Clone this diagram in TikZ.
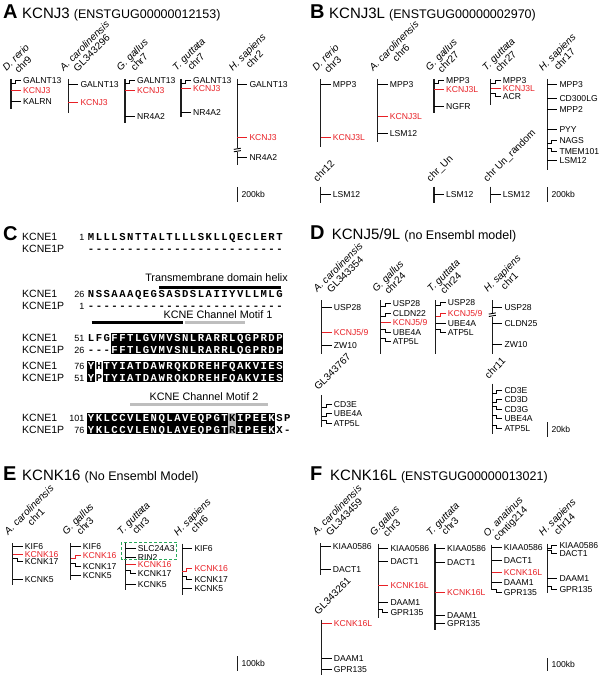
\documentclass[tikz,border=0pt]{standalone}
\usepackage{fontspec}
\setmainfont{Liberation Sans}
\newfontfamily\seqfont{Liberation Mono}
\usetikzlibrary{calc}

\definecolor{gred}{RGB}{232,32,38}
\definecolor{chromc}{RGB}{30,30,30}
\definecolor{boxgreen}{RGB}{40,170,90}
\definecolor{motifgray}{RGB}{190,190,190}

\newlength\sqpitch \setlength\sqpitch{7.85pt}
\def\sqloop#1{\ifx#1\relax\else\makebox[\sqpitch][c]{#1}\expandafter\sqloop\fi}
\newcommand\sq[1]{\sqloop#1\relax}

\newcounter{gn}
\tikzset{
  chrom/.style={line width=1.2pt, draw=chromc},
  tick/.style={line width=0.8pt},
  glab/.style={font=\fontsize{8.6}{10}\selectfont, inner sep=0pt, anchor=base west},
  splab/.style={font=\fontsize{10}{11}\selectfont, inner sep=0pt, rotate=45},
  plet/.style={font=\fontsize{20}{24}\selectfont\bfseries, inner sep=0pt, anchor=base west},
  ptxt/.style={font=\fontsize{15}{18}\selectfont, inner sep=0pt, anchor=base west},
  clab/.style={font=\fontsize{10.5}{12}\selectfont, inner sep=0pt, anchor=base west},
  cnum/.style={font=\fontsize{9}{10}\selectfont, inner sep=0pt, anchor=base east},
  cseq/.style={font=\seqfont\bfseries\fontsize{10.6}{12}\selectfont, inner sep=0pt, anchor=base west},
  ctxt/.style={font=\fontsize{10.8}{12}\selectfont, inner sep=0pt, anchor=base},
  bar/.style={line width=3pt, draw=black},
  gbar/.style={line width=3pt, draw=motifgray},
}

% gene ticks: straight, step up, step down
\newcommand\gS[4][black]{\stepcounter{gn}%
  \draw[tick,draw=#1] (#2,#3) -- ({#2+10},#3);
  \node[glab,text=#1] (g\arabic{gn}) at ({#2+12},{#3+3.1}) {#4};}
\newcommand\gU[4][black]{\stepcounter{gn}%
  \draw[tick,draw=#1] (#2,{#3+3}) -- ({#2+4.5},{#3+3}) -- ({#2+4.5},#3) -- ({#2+10},#3);
  \node[glab,text=#1] (g\arabic{gn}) at ({#2+12},{#3+3.1}) {#4};}
\newcommand\gD[4][black]{\stepcounter{gn}%
  \draw[tick,draw=#1] (#2,{#3-3}) -- ({#2+4.5},{#3-3}) -- ({#2+4.5},#3) -- ({#2+10},#3);
  \node[glab,text=#1] (g\arabic{gn}) at ({#2+12},{#3+3.1}) {#4};}
\newcommand\chrom[3]{\draw[chrom] (#1,#2) -- (#1,#3);}
\newcommand\sptwo[5]{%
  \node[splab,anchor=base west] (#1) at ({#2-4.5},{#3-7.5}) {\itshape #4};
  \node[splab,anchor=base] (#1c) at ($(#1.base)+(7.2,7.2)$) {#5};}
\newcommand\spone[4]{\node[splab,anchor=base west] (#1) at ({#2-3.5},{#3-4.5}) {#4};}
\newcommand\scalebar[5]{\draw[chrom] (#2,#3) -- (#2,#4);
  \node[glab] (#1) at ({#2+4},{(#3+#4)/2+3.1}) {#5};}
\newcommand\brk[2]{\fill[white] ({#1-3},{#2-1.8}) rectangle ({#1+3},{#2+1.8});
  \draw[line width=0.9pt] ({#1-3.5},{#2-0.6}) -- ({#1+3.5},{#2-1.8}) ({#1-3.5},{#2+1.8}) -- ({#1+3.5},{#2+0.6});}
\newcommand\ptitle[7]{%
  \node[plet] (#1) at (#2,#3) {#4};
  \node[ptxt] (#1t) at (#7,#3) {#5 {\fontsize{12.5}{15}\selectfont #6}};}
\newcommand\crow[5]{%
  \node[clab] (#1l) at (22,{#2+3.8}) {#3};
  \node[cnum] (#1n) at (84.5,{#2+3.2}) {#4};
  \node[cseq] (#1s) at (87,{#2+3.6}) {#5};}
\newcommand\shadecols[5]{\fill[#5] ({87+7.85*#1},#3) rectangle ({87+7.85*(#2+1)},#4);}

\begin{document}
\begin{tikzpicture}[x=1pt,y=-1pt]
\useasboundingbox (0,0) rectangle (600,676);

%================ A
\ptitle{tA}{3}{19}{A}{KCNJ3}{(ENSTGUG00000012153)}{22}
\sptwo{sA1}{11}{79}{D. rerio}{chr9}
\chrom{11}{79}{109}
\gU{11}{80.5}{GALNT13}
\gS[gred]{11}{90}{KCNJ3}
\gS{11}{101.7}{KALRN}

\sptwo{sA2}{68.3}{79}{A. carolinensis}{GL343296}
\chrom{68.3}{79}{113}
\gS{68.3}{84}{GALNT13}
\gS[gred]{68.3}{102.7}{KCNJ3}

\sptwo{sA3}{125}{79}{G. gallus}{chr7}
\chrom{125}{79}{123}
\gU{125}{80.5}{GALNT13}
\gS[gred]{125}{90}{KCNJ3}
\gS{125}{116.7}{NR4A2}

\sptwo{sA4}{181}{79}{T. guttata}{chr7}
\chrom{181}{79}{117}
\gU{181}{80.5}{GALNT13}
\gS[gred]{181}{88}{KCNJ3}
\gS{181}{112.3}{NR4A2}

\sptwo{sA5}{237.3}{79}{H. sapiens}{chr2}
\chrom{237.3}{79}{165}
\gS{237.3}{84}{GALNT13}
\gS[gred]{237.3}{137.3}{KCNJ3}
\brk{237.3}{150}
\gS{237.3}{157.3}{NR4A2}
\scalebar{sbA}{237.3}{187.3}{202.3}{200kb}

%================ B
\ptitle{tB}{310}{19}{B}{KCNJ3L}{(ENSTGUG00000002970)}{329}
\sptwo{sB1}{320.7}{79}{D. rerio}{chr3}
\chrom{320.7}{79}{146.7}
\gS{320.7}{84}{MPP3}
\gS[gred]{320.7}{137.7}{KCNJ3L}

\sptwo{sB2}{377.7}{79}{A. carolinensis}{chr6}
\chrom{377.7}{79}{141.7}
\gS{377.7}{84}{MPP3}
\gS[gred]{377.7}{116.7}{KCNJ3L}
\gS{377.7}{133.3}{LSM12}

\sptwo{sB3}{434}{79}{G. gallus}{chr27}
\chrom{434}{79}{113.3}
\gU{434}{80.5}{MPP3}
\gS[gred]{434}{89.3}{KCNJ3L}
\gS{434}{106}{NGFR}

\sptwo{sB4}{490.7}{79}{T. guttata}{chr27}
\chrom{490.7}{79}{105}
\gU{490.7}{80}{MPP3}
\gS[gred]{490.7}{88.3}{KCNJ3L}
\gD{490.7}{96.7}{ACR}

\sptwo{sB5}{547.3}{79}{H. sapiens}{chr17}
\chrom{547.3}{79}{170}
\gS{547.3}{84.7}{MPP3}
\gS{547.3}{98}{CD300LG}
\gS{547.3}{109}{MPP2}
\gS{547.3}{129}{PYY}
\gU{547.3}{140}{NAGS}
\gD{547.3}{151.7}{TMEM101}
\gS{547.3}{160.7}{LSM12}

\spone{sB6}{320.7}{186.7}{chr12}
\chrom{320.7}{186.7}{202.7}
\gS{320.7}{194.3}{LSM12}
\spone{sB7}{434}{186.7}{chr\_Un}
\chrom{434}{186.7}{202.7}
\gS{434}{194.3}{LSM12}
\spone{sB8}{490.7}{186.7}{chr Un\_random}
\chrom{490.7}{186.7}{202.7}
\gS{490.7}{194.3}{LSM12}
\scalebar{sbB}{547.3}{187.3}{202.3}{200kb}

%================ C
\node[plet] (tC) at (3,240) {C};
\crow{r1a}{237}{KCNE1}{1}{\sq{MLLLSNTTALTLLLSKLLQECLERT}}
\crow{r1b}{249}{KCNE1P}{}{\sq{-------------------------}}
\node[ctxt] (tm) at (216.5,281.5) {Transmembrane domain helix};
\draw[bar] (159,287) -- (281,287);
\crow{r2a}{294}{KCNE1}{26}{\sq{NSSAAAQEGSASDSLAIIYVLLMLG}}
\crow{r2b}{306}{KCNE1P}{1}{\sq{-------------------------}}
\node[ctxt] (m1) at (218,318) {KCNE Channel Motif 1};
\draw[bar] (91.7,322.3) -- (182.7,322.3);
\draw[gbar] (185,322.3) -- (245,322.3);
\shadecols{3}{24}{332.5}{354}{black}
\crow{r3a}{338}{KCNE1}{51}{\sq{LFG}{\color{white}\sq{FFTLGVMVSNLRARRLQGPRDP}}}
\crow{r3b}{350}{KCNE1P}{26}{\sq{---}{\color{white}\sq{FFTLGVMVSNLRARRLQGPRDP}}}
\shadecols{0}{0}{360.5}{382}{black}
\shadecols{2}{24}{360.5}{382}{black}
\crow{r4a}{366}{KCNE1}{76}{{\color{white}\sq{Y}}\sq{H}{\color{white}\sq{TYIATDAWRQKDREHFQAKVIES}}}
\crow{r4b}{378}{KCNE1P}{51}{{\color{white}\sq{Y}}\sq{P}{\color{white}\sq{TYIATDAWRQKDREHFQAKVIES}}}
\node[ctxt] (m2) at (204,400.5) {KCNE Channel Motif 2};
\draw[gbar] (130,404.3) -- (267.7,404.3);
\shadecols{0}{17}{412.5}{434}{black}
\shadecols{18}{18}{412.5}{434}{motifgray}
\shadecols{19}{23}{412.5}{434}{black}
\crow{r5a}{418}{KCNE1}{101}{{\color{white}\sq{YKLCCVLENQLAVEQPGT}}\sq{K}{\color{white}\sq{IPEEK}}\sq{SP}}
\crow{r5b}{430}{KCNE1P}{76}{{\color{white}\sq{YKLCCVLENQLAVEQPGT}}\sq{R}{\color{white}\sq{IPEEK}}\sq{X-}}

%================ D
\ptitle{tD}{310}{239}{D}{KCNJ5/9L}{(no Ensembl model)}{331.7}
\sptwo{sD1}{321.7}{300.3}{A. carolinensis}{GL343354}
\chrom{321.7}{300.3}{353.7}
\gS{321.7}{307}{USP28}
\gS[gred]{321.7}{332}{KCNJ5/9}
\gS{321.7}{345.3}{ZW10}

\sptwo{sD2}{380.7}{300.3}{G. gallus}{chr24}
\chrom{380.7}{300.3}{353.7}
\gU{380.7}{303.7}{USP28}
\gU{380.7}{313.7}{CLDN22}
\gS[gred]{380.7}{322}{KCNJ5/9}
\gD{380.7}{332}{UBE4A}
\gD{380.7}{341}{ATP5L}

\sptwo{sD3}{435.7}{300.3}{T. guttata}{chr24}
\chrom{435.7}{300.3}{353.7}
\gU{435.7}{302}{USP28}
\gU[gred]{435.7}{313.7}{KCNJ5/9}
\gS{435.7}{323.7}{UBE4A}
\gD{435.7}{332}{ATP5L}

\sptwo{sD4}{492.3}{300.3}{H. sapiens}{chr1}
\chrom{492.3}{300.3}{353.7}
\gS{492.3}{307}{USP28}
\brk{492.3}{314.7}
\gS{492.3}{323.7}{CLDN25}
\gS{492.3}{344.7}{ZW10}

\spone{sD5}{321.7}{395.3}{GL343767}
\chrom{321.7}{395.3}{427}
\gU{321.7}{404.7}{CD3E}
\gU{321.7}{413.7}{UBE4A}
\gD{321.7}{423}{ATP5L}

\spone{sD6}{492.3}{383.7}{chr11}
\chrom{492.3}{383.7}{433.7}
\gU{492.3}{390.3}{CD3E}
\gU{492.3}{399}{CD3D}
\gD{492.3}{409.7}{CD3G}
\gD{492.3}{418}{UBE4A}
\gD{492.3}{428.7}{ATP5L}
\scalebar{sbD}{547.3}{422}{437}{20kb}

%================ E
\ptitle{tE}{3}{480}{E}{KCNK16}{(No Ensembl Model)}{22}
\sptwo{sE1}{12.7}{543}{A. carolinensis}{chr1}
\chrom{12.7}{543}{585.3}
\gS{12.7}{546.3}{KIF6}
\gS[gred]{12.7}{554}{KCNK16}
\gD{12.7}{561.5}{KCNK17}
\gS{12.7}{579}{KCNK5}

\sptwo{sE2}{70.7}{543}{G. gallus}{chr3}
\chrom{70.7}{543}{579.7}
\gS{70.7}{546.3}{KIF6}
\gU[gred]{70.7}{555.7}{KCNK16}
\gD{70.7}{566.3}{KCNK17}
\gS{70.7}{575.3}{KCNK5}

\sptwo{sE3}{125.7}{543}{T. guttata}{chr3}
\chrom{125.7}{543}{589.7}
\gS{125.7}{548}{SLC24A3}
\gS{125.7}{557}{RIN2}
\gS[gred]{125.7}{564.7}{KCNK16}
\gD{125.7}{573}{KCNK17}
\gS{125.7}{584.7}{KCNK5}
\draw[boxgreen, dash pattern=on 3pt off 2pt, line width=0.9pt] (121.7,542.3) rectangle (176.7,559.7);

\sptwo{sE4}{182.3}{543.7}{H. sapiens}{chr6}
\chrom{182.3}{543.7}{594.7}
\gS{182.3}{548}{KIF6}
\gU[gred]{182.3}{568}{KCNK16}
\gD{182.3}{579.7}{KCNK17}
\gS{182.3}{588.7}{KCNK5}
\scalebar{sbE}{237.3}{656.3}{671.3}{100kb}

%================ F
\ptitle{tF}{310}{480}{F}{KCNK16L}{(ENSTGUG00000013021)}{330}
\sptwo{sF1}{320.7}{543}{A. carolinensis}{GL343459}
\chrom{320.7}{543}{574.7}
\gS{320.7}{546.3}{KIAA0586}
\gS{320.7}{569.7}{DACT1}

\sptwo{sF2}{378.3}{543.7}{G.gallus}{chr3}
\chrom{378.3}{543.7}{618}
\gS{378.3}{548}{KIAA0586}
\gS{378.3}{561.3}{DACT1}
\gS[gred]{378.3}{585.3}{KCNK16L}
\gS{378.3}{602}{DAAM1}
\gD{378.3}{612}{GPR135}

\sptwo{sF3}{435}{543.7}{T. guttata}{chr3}
\chrom{435}{543.7}{629.7}
\gS{435}{548}{KIAA0586}
\gS{435}{562}{DACT1}
\gS[gred]{435}{592}{KCNK16L}
\gS{435}{615.3}{DAAM1}
\gS{435}{623.7}{GPR135}

\sptwo{sF4}{491.7}{544.7}{O. anatinus}{contig214}
\chrom{491.7}{544.7}{590}
\gS{491.7}{547}{KIAA0586}
\gS{491.7}{560.3}{DACT1}
\gS[gred]{491.7}{572}{KCNK16L}
\gS{491.7}{582}{DAAM1}
\gD{491.7}{592}{GPR135}

\sptwo{sF5}{547.3}{543.7}{H. sapiens}{chr14}
\chrom{547.3}{543.7}{593}
\gU{547.3}{545.7}{KIAA0586}
\gD{547.3}{553}{DACT1}
\gS{547.3}{578}{DAAM1}
\gD{547.3}{589}{GPR135}

\spone{sF6}{321.7}{619.7}{GL343261}
\chrom{321.7}{619.7}{674.7}
\gS[gred]{321.7}{623}{KCNK16L}
\gS{321.7}{658}{DAAM1}
\gS{321.7}{669.7}{GPR135}
\scalebar{sbF}{547.3}{658}{671.3}{100kb}

\end{tikzpicture}
\end{document}
